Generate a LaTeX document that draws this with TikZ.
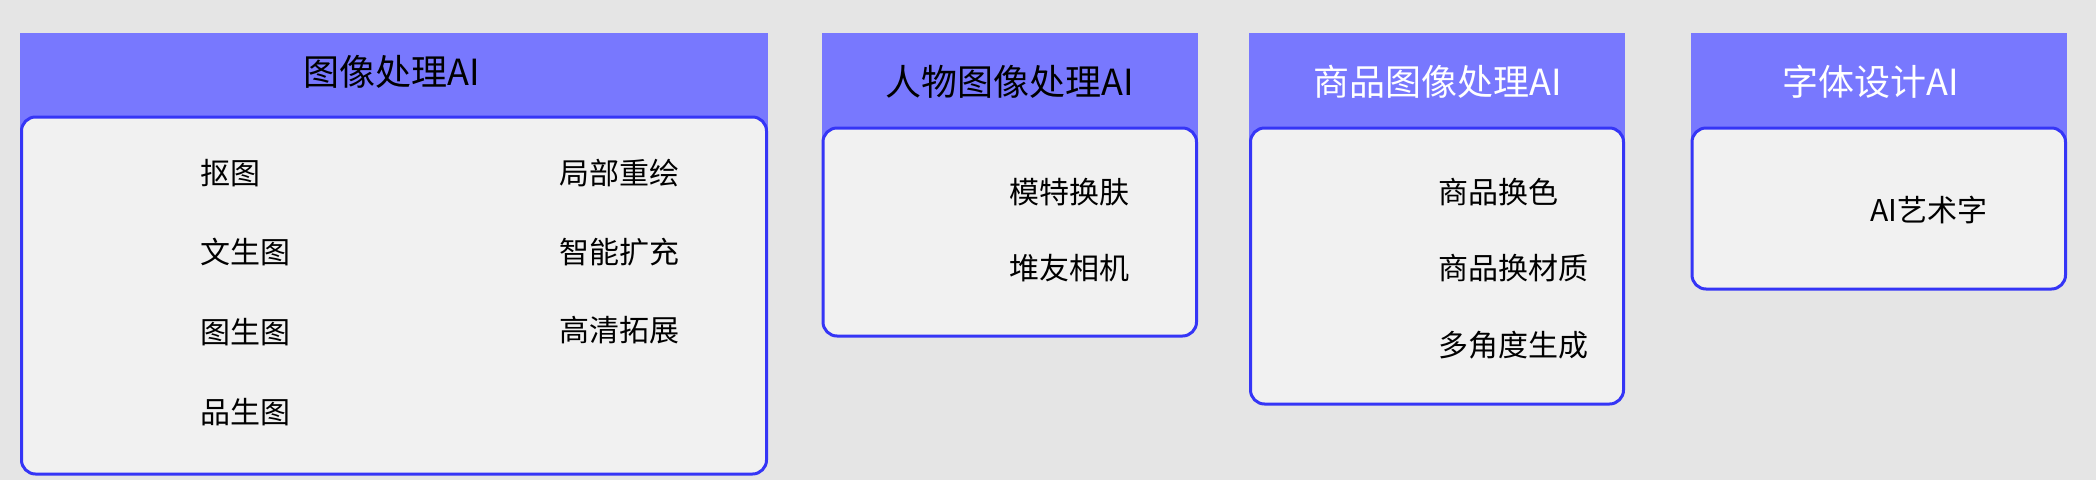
\documentclass[tikz,border=0pt]{standalone}
\usepackage{fontspec}
\newfontfamily\cjk{Noto Sans CJK SC}
\definecolor{bgcol}{HTML}{E5E5E5}
\definecolor{hdrcol}{HTML}{7878FE}
\definecolor{bodycol}{HTML}{F1F1F1}
\definecolor{strokecol}{HTML}{3535F6}
\tikzset{
  hdr/.style={fill=hdrcol},
  bodybox/.style={fill=bodycol, draw=strokecol, line width=3pt, rounded corners=14pt},
  item/.style={font=\cjk\fontsize{30}{36}\selectfont, anchor=west, inner sep=0pt, text height=26.4pt, text depth=3.6pt},
  title/.style={font=\cjk\fontsize{36}{42}\selectfont, anchor=center, inner sep=0pt, text height=31.7pt, text depth=4.3pt},
}
\begin{document}
\begin{tikzpicture}[x=1pt,y=-1pt]
\fill[bgcol] (0,0) rectangle (2096,480);
\useasboundingbox (0,0) rectangle (2096,480);
% box 1
\path[hdr] (20,33) rectangle (768,140);
\path[bodybox] (21.5,117) rectangle (766.5,474);
\node[title, text=black] (t1) at (392,72) {图像处理AI};
\node[item] (a1) at (200,173) {抠图};
\node[item] (a2) at (200,252) {文生图};
\node[item] (a3) at (200,332) {图生图};
\node[item] (a4) at (200,412) {品生图};
\node[item] (b1) at (559,173) {局部重绘};
\node[item] (b2) at (559,252) {智能扩充};
\node[item] (b3) at (559,330) {高清拓展};
% box 2
\path[hdr] (821.5,33) rectangle (1198,150);
\path[bodybox] (823,128) rectangle (1196.5,336);
\node[title, text=black] (t2) at (1010,82) {人物图像处理AI};
\node[item] (c1) at (1009,192) {模特换肤};
\node[item] (c2) at (1009,268) {堆友相机};
% box 3
\path[hdr] (1249,33) rectangle (1625,150);
\path[bodybox] (1250.5,128) rectangle (1623.5,404);
\node[title, text=white] (t3) at (1438,82) {商品图像处理AI};
\node[item] (d1) at (1438,192) {商品换色};
\node[item] (d2) at (1438,268) {商品换材质};
\node[item] (d3) at (1438,345) {多角度生成};
% box 4
\path[hdr] (1690.5,33) rectangle (2067,150);
\path[bodybox] (1692,128) rectangle (2065.5,289);
\node[title, text=white] (t4) at (1871,82) {字体设计AI};
\node[item] (e1) at (1870,210) {AI艺术字};
\end{tikzpicture}
\end{document}
